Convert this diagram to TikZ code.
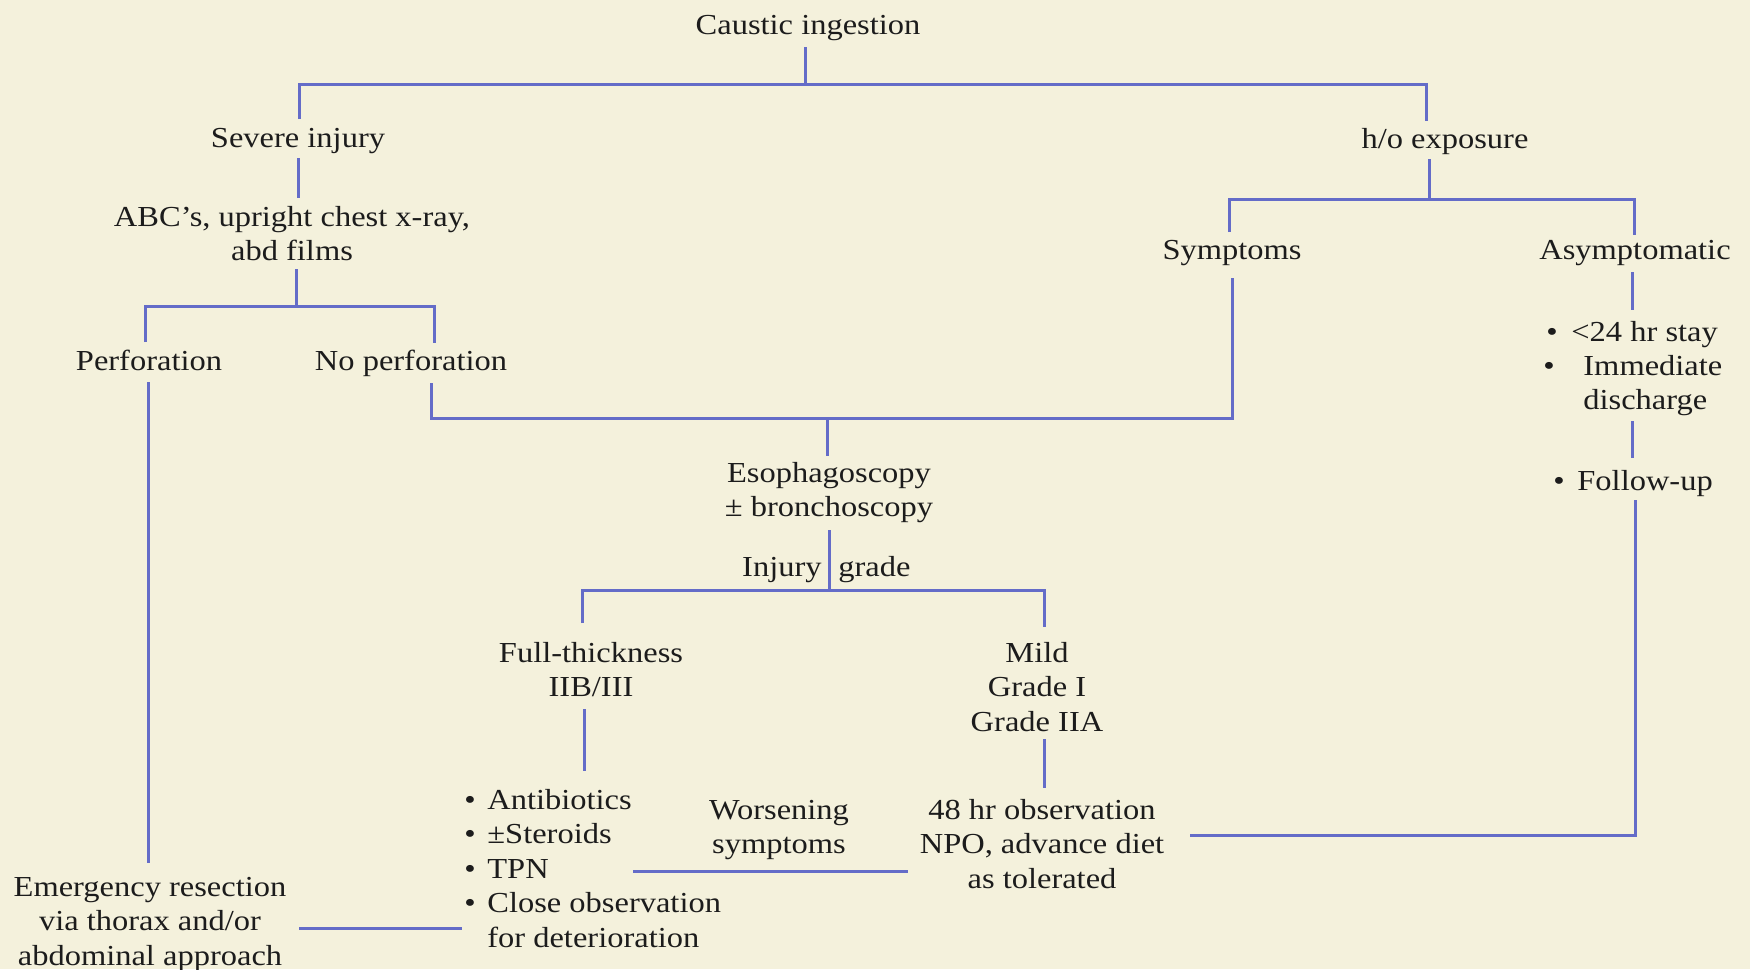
\documentclass[tikz,border=0pt]{standalone}
\usepackage{fontspec}
\setmainfont{Liberation Serif}[FakeStretch=1.12]
\definecolor{bg}{RGB}{244,241,220}
\definecolor{lineblue}{RGB}{100,108,200}
\definecolor{ink}{RGB}{28,28,28}
\begin{document}
\begin{tikzpicture}[x=0.5pt,y=-0.5pt,
  conn/.style={draw=lineblue, line width=1.5pt},
  lbl/.style={inner sep=0pt, anchor=base, align=center, text=ink,
    font=\fontsize{14.5}{17.3}\selectfont},
  lft/.style={lbl, anchor=base west, align=left},
  rgt/.style={lbl, anchor=base east, align=right}]
\fill[bg] (0,0) rectangle (1750,969);
\useasboundingbox (0,0) rectangle (1750,969);

% ---------- text nodes (multi-line nodes are placed by their last baseline) ----------
\node[lbl] (caustic) at (808,34) {Caustic ingestion};
\node[lbl] (severe) at (298,147) {Severe injury};
\node[lbl] (abc) at (292,260.6) {ABC’s, upright chest x-ray,\\abd films};
\node[lbl] (hoexp) at (1445,148) {h/o exposure};
\node[lbl] (symptoms) at (1232,259) {Symptoms};
\node[lbl] (asymp) at (1635,259) {Asymptomatic};
\node[lbl] (perf) at (149,370) {Perforation};
\node[lbl] (noperf) at (411,370) {No perforation};

\node[lft] (b1) at (1546,341) {•};
\node[lft] (stay) at (1571,341) {<24 hr stay};
\node[lft] (b2) at (1543,375) {•};
\node[lft] (immed) at (1583,409.6) {Immediate\\discharge};
\node[lft] (b3) at (1553,490) {•};
\node[lft] (follow) at (1577,490) {Follow-up};

\node[lbl] (esoph) at (829,516.6) {Esophagoscopy\\± bronchoscopy};
\node[rgt] (injury) at (822,576) {Injury};
\node[lft] (grade) at (838,576) {grade};

\node[lbl] (full) at (591,696.6) {Full-thickness\\IIB/III};
\node[lbl] (mild) at (1037,731.2) {Mild\\Grade I\\Grade IIA};

\node[lft] (treat) at (464,947.4) {•\hspace{0.4em}Antibiotics\\
  •\hspace{0.4em}±Steroids\\
  •\hspace{0.4em}TPN\\
  •\hspace{0.4em}Close observation\\
  \phantom{•}\hspace{0.4em}for deterioration};
\node[lbl] (worse) at (779,853.6) {Worsening\\symptoms};
\node[lbl] (obs) at (1042,888.2) {48 hr observation\\NPO, advance diet\\as tolerated};
\node[lbl] (emerg) at (150,965.2) {Emergency resection\\via thorax and/or\\abdominal approach};

% ---------- junction coordinates ----------
\coordinate (j1) at (805,84);
\coordinate (j1l) at (299,84);
\coordinate (j1r) at (1426,84);
\coordinate (j2) at (296,306);
\coordinate (j2l) at (145,306);
\coordinate (j2r) at (434,306);
\coordinate (j3) at (1429,199);
\coordinate (j3l) at (1229,199);
\coordinate (j3r) at (1634,199);
\coordinate (j4) at (827,418);
\coordinate (j4l) at (431,418);
\coordinate (j4r) at (1232,418);
\coordinate (j5) at (829,590);
\coordinate (j5l) at (582,590);
\coordinate (j5r) at (1044,590);
\coordinate (j6) at (1635,835);

% ---------- connectors ----------
\draw[conn] (805,47) -- (j1);
\draw[conn] (299,119) -- (j1l) -- (j1r) -- (1426,121);
\draw[conn] (298,158) -- (298,198);
\draw[conn] (296,269) -- (j2);
\draw[conn] (145,342) -- (j2l) -- (j2r) -- (434,343);
\draw[conn] (148,382) -- (148,863);
\draw[conn] (431,383) -- (j4l) -- (j4r) -- (1232,278);
\draw[conn] (j4) -- (827,456);
\draw[conn] (1429,159) -- (j3);
\draw[conn] (1229,232) -- (j3l) -- (j3r) -- (1634,235);
\draw[conn] (1632,272) -- (1632,310);
\draw[conn] (1632,421) -- (1632,458);
\draw[conn] (1635,500) -- (j6) -- (1190,835);
\draw[conn] (829,530) -- (j5);
\draw[conn] (582,623) -- (j5l) -- (j5r) -- (1044,627);
\draw[conn] (584,709) -- (584,771);
\draw[conn] (1044,739) -- (1044,788);
\draw[conn] (633,871) -- (908,871);
\draw[conn] (299,928) -- (462,928);
\end{tikzpicture}
\end{document}
